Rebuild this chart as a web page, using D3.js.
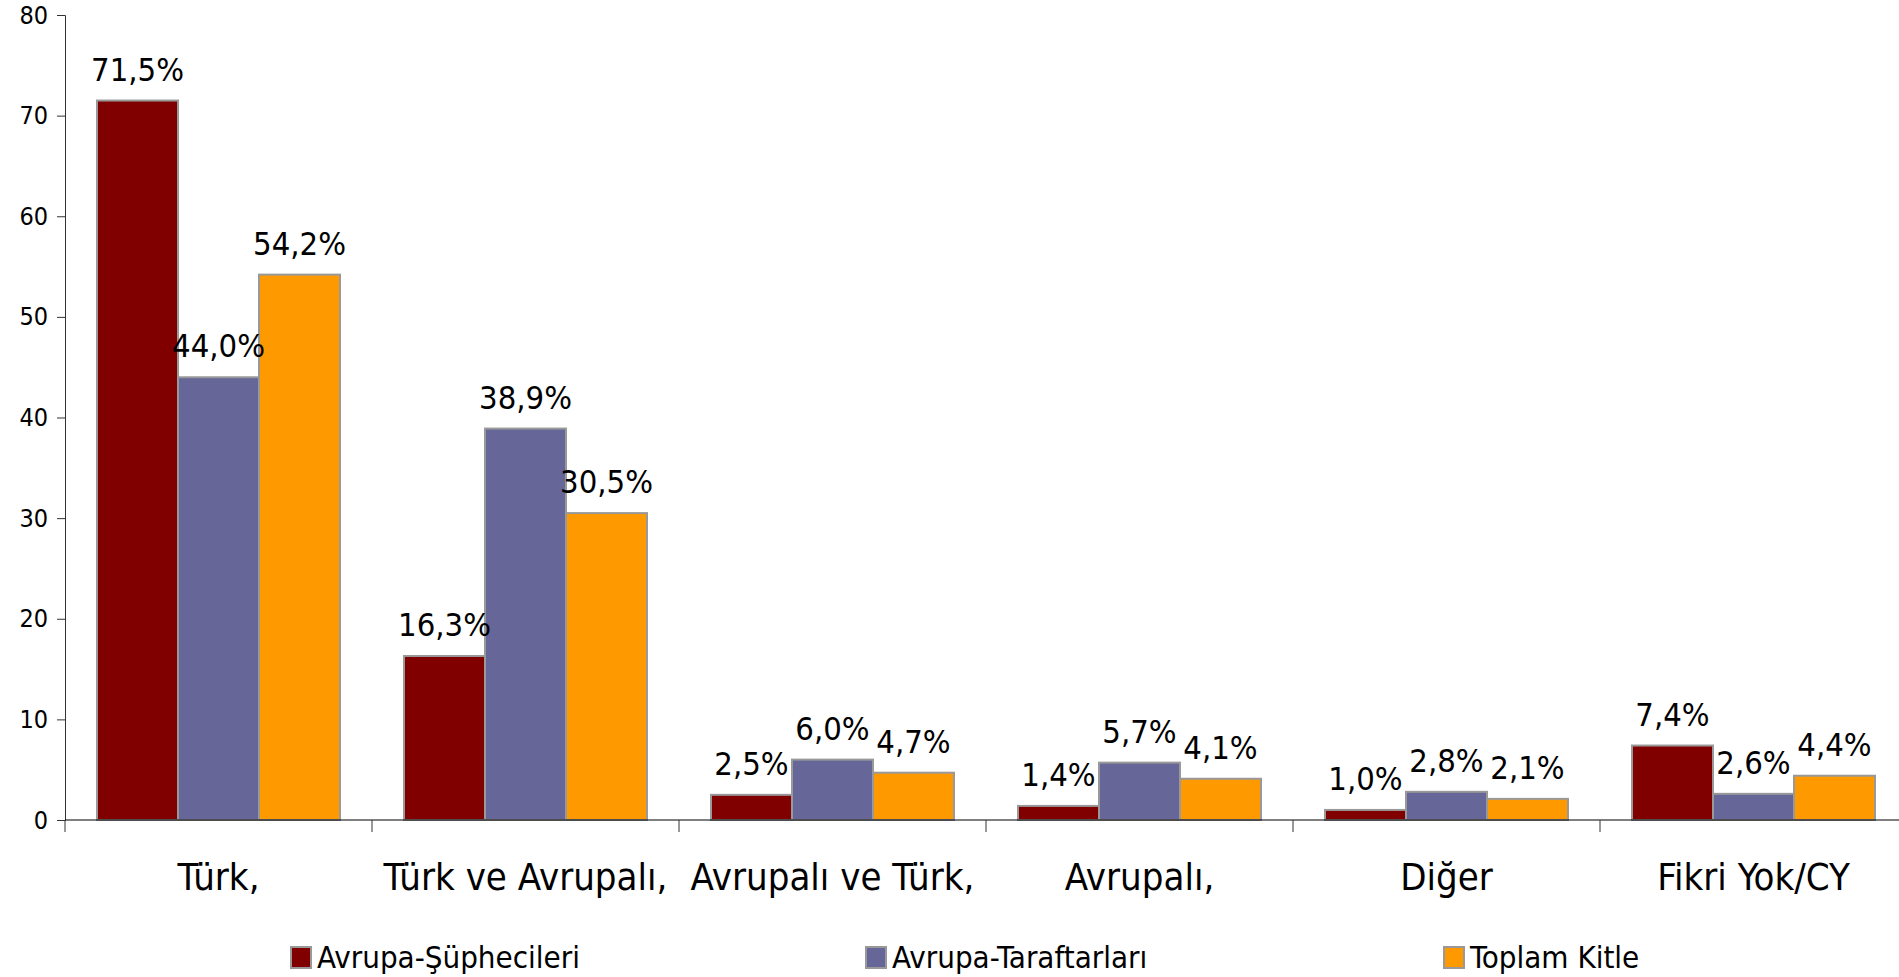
<!DOCTYPE html>
<html>
<head>
<meta charset="utf-8">
<script src="https://cdn.jsdelivr.net/npm/d3@7"></script>
<style>
  body { margin: 0; background: #fff; }
  svg text { font-family: Tahoma, 'DejaVu Sans Condensed', 'DejaVu Sans', sans-serif; font-stretch: condensed; fill: #000; }
</style>
</head>
<body>
<div id="app"></div>
<script>
const categories = ['Türk,', 'Türk ve Avrupalı,', 'Avrupalı ve Türk,', 'Avrupalı,', 'Diğer', 'Fikri Yok/CY'];
const seriesNames = ['Avrupa-Şüphecileri', 'Avrupa-Taraftarları', 'Toplam Kitle'];
const supheciler = [71.5, 16.3, 2.5, 1.4, 1.0, 7.4];
const taraftarlar = [44.0, 38.9, 6.0, 5.7, 2.8, 2.6];
const toplam = [54.2, 30.5, 4.7, 4.1, 2.1, 4.4];
const yTicks = [0, 10, 20, 30, 40, 50, 60, 70, 80];
const colors = ['#800000', '#666699', '#ff9900'];

const series = [supheciler, taraftarlar, toplam];

const W = 1899, H = 977;
const svg = d3.select('#app').append('svg')
    .attr('width', W)
    .attr('height', H);

const margin = { top: 15, right: 0, bottom: 157, left: 65 };
const width = 6 * 307;
const height = H - margin.top - margin.bottom;

const g = svg.append('g')
    .attr('transform', `translate(${margin.left},${margin.top})`);

const x0 = d3.scaleBand()
    .domain(categories)
    .range([0, width])
    .paddingInner(0)
    .paddingOuter(0);

const x1 = d3.scaleBand()
    .domain(d3.range(series.length))
    .range([32, x0.bandwidth() - 32])
    .padding(0);

const y = d3.scaleLinear()
    .domain([0, 80])
    .range([height, 0]);

const fmt = v => d3.format('.1f')(v).replace('.', ',') + '%';

// bars
const groups = g.selectAll('.grp')
  .data(categories)
  .enter().append('g')
    .attr('class', 'grp')
    .attr('transform', d => `translate(${x0(d)},0)`);

groups.selectAll('rect')
  .data((d, i) => series.map((s, k) => ({ k, v: s[i] })))
  .enter().append('rect')
    .attr('x', d => x1(d.k))
    .attr('y', d => y(d.v))
    .attr('width', x1.bandwidth())
    .attr('height', d => y(0) - y(d.v))
    .attr('fill', d => colors[d.k])
    .attr('stroke', '#999')
    .attr('stroke-width', 2);

groups.selectAll('text.val')
  .data((d, i) => series.map((s, k) => ({ k, v: s[i] })))
  .enter().append('text')
    .attr('class', 'val')
    .attr('x', d => x1(d.k) + x1.bandwidth() / 2)
    .attr('y', d => y(d.v) - 20)
    .attr('text-anchor', 'middle')
    .attr('font-size', 32.5)
    .text(d => fmt(d.v));

// y axis
const yAxis = g.append('g')
    .call(d3.axisLeft(y).tickValues(yTicks).tickSize(8).tickPadding(9));
yAxis.select('.domain').attr('stroke', '#333');
yAxis.selectAll('.tick line').attr('stroke', '#333');
yAxis.selectAll('.tick text').attr('font-size', 25);

// x axis
const xAxis = g.append('g')
    .attr('transform', `translate(0,${height})`);
xAxis.append('line')
    .attr('x1', 0).attr('x2', width)
    .attr('stroke', '#000');
xAxis.selectAll('.xt')
  .data(categories)
  .enter().append('line')
    .attr('class', 'xt')
    .attr('x1', d => x0(d)).attr('x2', d => x0(d))
    .attr('y1', 0).attr('y2', 12)
    .attr('stroke', '#333');
xAxis.selectAll('.xl')
  .data(categories)
  .enter().append('text')
    .attr('class', 'xl')
    .attr('x', d => x0(d) + x0.bandwidth() / 2)
    .attr('y', 70)
    .attr('text-anchor', 'middle')
    .attr('font-size', 38)
    .text(d => d);

// legend
const legendX = [291, 866, 1444];
const legend = svg.selectAll('.legend')
  .data(seriesNames)
  .enter().append('g')
    .attr('class', 'legend')
    .attr('transform', (d, i) => `translate(${legendX[i]},947)`);

legend.append('rect')
    .attr('width', 20)
    .attr('height', 21)
    .attr('fill', (d, i) => colors[i])
    .attr('stroke', '#999')
    .attr('stroke-width', 2);

legend.append('text')
    .attr('x', 26)
    .attr('y', 21)
    .attr('font-size', 31)
    .text(d => d);
</script>
</body>
</html>
